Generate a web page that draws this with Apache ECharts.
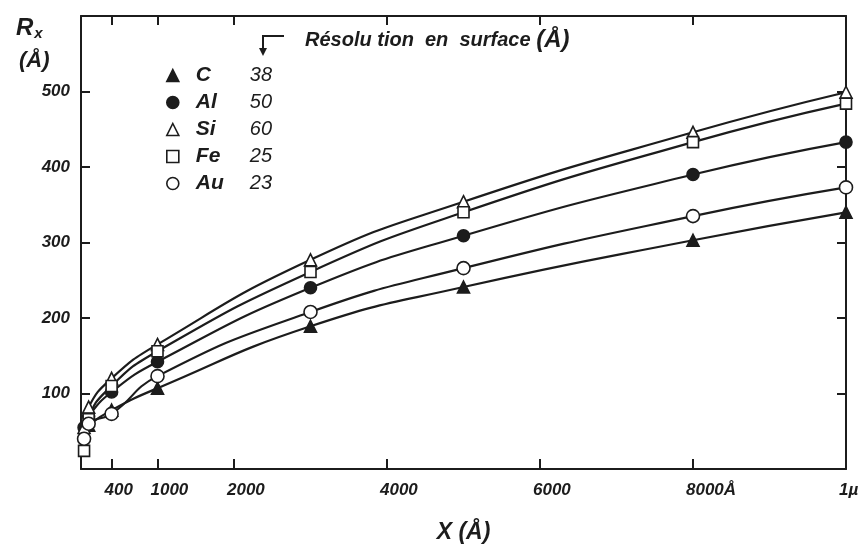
<!DOCTYPE html>
<html><head><meta charset="utf-8">
<script src="https://cdn.jsdelivr.net/npm/echarts@6/dist/echarts.min.js"></script>
<style>html,body{margin:0;padding:0;background:#fff}#c{width:866px;height:549px}</style>
</head><body><div id="c"></div>
<script>
const xValues = [40, 100, 400, 1000, 3000, 5000, 8000, 10000];
const seriesC  = [50, 58, 78, 107, 189, 241, 303, 340];
const seriesAl = [55, 70, 102, 142, 240, 309, 390, 433];
const seriesSi = [55, 82, 120, 165, 277, 354, 446, 499];
const seriesFe = [24, 66, 110, 156, 261, 340, 433, 484];
const seriesAu = [40, 60, 73, 123, 208, 266, 335, 373];
const elements = ['C', 'Al', 'Si', 'Fe', 'Au'];
const resolutions = [38, 50, 60, 25, 23];
const xTickValues = [400, 1000, 2000, 4000, 6000, 8000, 10000];
const xTickLabels = ['400', '1000', '2000', '4000', '6000', '8000Å', '1µ'];
const xTopTicks = [400, 1000, 2000, 4000, 6000, 8000];
const yTickValues = [100, 200, 300, 400, 500];

const FF = '"Liberation Sans", Arial, sans-serif';
const INK = '#1c1c1c';
const pairs = arr => xValues.map((x, i) => [x, arr[i]]);

const styles = {
  C:  {symbol: 'triangle', size: 12, fill: INK},
  Al: {symbol: 'circle', size: 12, fill: INK},
  Si: {symbol: 'triangle', size: 12, fill: '#fff'},
  Fe: {symbol: 'rect', size: 11, fill: '#fff'},
  Au: {symbol: 'circle', size: 13, fill: '#fff'}
};
const dataMap = {C: seriesC, Al: seriesAl, Si: seriesSi, Fe: seriesFe, Au: seriesAu};

const series = elements.map(el => ({
  name: el,
  type: 'line',
  data: pairs(dataMap[el]),
  smooth: 0.5,
  symbol: styles[el].symbol,
  symbolSize: styles[el].size,
  showSymbol: true,
  lineStyle: {color: INK, width: 2.2},
  itemStyle: {color: styles[el].fill, borderColor: INK, borderWidth: 1.6},
  z: 3
}));

const axisCommon = {
  axisLine: {show: true, onZero: false, lineStyle: {color: INK, width: 2}},
  splitLine: {show: false}
};
const labelFont = {fontFamily: FF, fontStyle: 'italic', fontWeight: 'bold', fontSize: 17, color: INK};

const option = {
  animation: false,
  backgroundColor: '#fff',
  grid: {left: 81, right: 20, top: 16, bottom: 79},
  title: [
    {text: '{r|R}{s|x}', left: 11, top: 10,
     textStyle: {rich: {r: {fontFamily: FF, fontStyle: 'italic', fontWeight: 'bold', fontSize: 24, color: INK, lineHeight: 26},
                        s: {fontFamily: FF, fontStyle: 'italic', fontWeight: 'bold', fontSize: 15, color: INK, verticalAlign: 'bottom', padding: [8, 0, 0, 1]}}}},
    {text: '(Å)', left: 14, top: 45,
     textStyle: {fontFamily: FF, fontStyle: 'italic', fontWeight: 'bold', fontSize: 22, color: INK}},
    {text: '{a|Résolu tion  en  surface }{b|(Å)}', left: 300, top: 23,
     textStyle: {rich: {a: {fontFamily: FF, fontStyle: 'italic', fontSize: 20, color: INK},
                        b: {fontFamily: FF, fontStyle: 'italic', fontWeight: 'bold', fontSize: 24, color: INK}}}}
  ],
  graphic: [
    {type: 'polyline', shape: {points: [[284, 36], [263, 36], [263, 50]]}, style: {stroke: INK, lineWidth: 2, fill: null}},
    {type: 'polygon', shape: {points: [[259, 48], [267, 48], [263, 56]]}, style: {fill: INK}}
  ],
  legend: {
    orient: 'vertical', left: 161, top: 60, itemWidth: 12, itemHeight: 12, itemGap: 6,
    selectedMode: false,
    data: elements.map(el => ({name: el, icon: styles[el].symbol,
      itemStyle: {color: styles[el].fill, borderColor: INK, borderWidth: 1.6}})),
    formatter: name => '{n|' + name + '}{v|' + resolutions[elements.indexOf(name)] + '}',
    textStyle: {rich: {
      n: {fontFamily: FF, fontStyle: 'italic', fontWeight: 'bold', fontSize: 21, color: INK, width: 54, padding: [0, 0, 0, 12], lineHeight: 24},
      v: {fontFamily: FF, fontStyle: 'italic', fontSize: 20, color: INK, lineHeight: 24}
    }}
  },
  xAxis: [
    Object.assign({}, axisCommon, {
      type: 'value', min: 0, max: 10000, position: 'bottom',
      axisTick: {show: true, inside: true, length: 10, customValues: xTickValues, lineStyle: {color: INK, width: 2}},
      axisLabel: Object.assign({customValues: xTickValues, formatter: v => xTickLabels[xTickValues.indexOf(v)],
        align: 'left', padding: [0, 0, 0, -7], margin: 13}, labelFont),
      name: 'X (Å)', nameLocation: 'middle', nameGap: 52,
      nameTextStyle: {fontFamily: FF, fontStyle: 'italic', fontWeight: 'bold', fontSize: 23, color: INK}
    }),
    Object.assign({}, axisCommon, {
      type: 'value', min: 0, max: 10000, position: 'top',
      axisTick: {show: true, inside: true, length: 9, customValues: xTopTicks, lineStyle: {color: INK, width: 2}},
      axisLabel: {show: false}
    })
  ],
  yAxis: [
    Object.assign({}, axisCommon, {
      type: 'value', min: 0, max: 600, interval: 100, position: 'left',
      axisTick: {show: true, inside: true, length: 9, customValues: yTickValues, lineStyle: {color: INK, width: 2}},
      axisLabel: Object.assign({customValues: yTickValues, margin: 11}, labelFont)
    }),
    Object.assign({}, axisCommon, {
      type: 'value', min: 0, max: 600, interval: 100, position: 'right',
      axisTick: {show: true, inside: true, length: 9, customValues: yTickValues, lineStyle: {color: INK, width: 2}},
      axisLabel: {show: false}
    })
  ],
  series: series
};
const chart = echarts.init(document.getElementById('c'), null, {renderer: 'canvas'});
chart.setOption(option);
</script></body></html>
